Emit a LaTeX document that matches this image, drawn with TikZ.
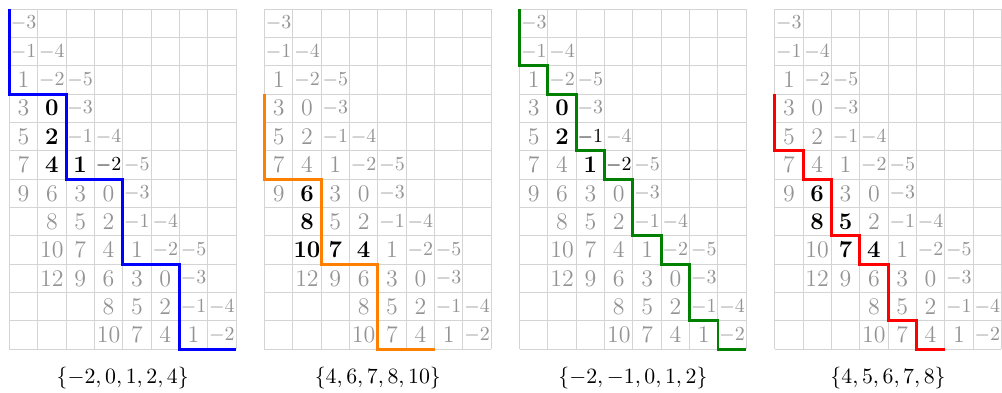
\documentclass[tikz,border=0pt]{standalone}
\usepackage{amsmath}
\usepackage{tikz}
\definecolor{verde}{HTML}{008000}
\definecolor{naranja}{HTML}{FF8000}
% una tabla: #1 desplazamiento, #2 prefijo, #3 celdas marcadas, #4 rotulo
\newcommand{\tabla}[4]{%
  \foreach \i in {0,...,8} \draw[rej] (#1+\i,0) -- (#1+\i,12);
  \foreach \j in {0,...,12} \draw[rej] (#1,\j) -- (#1+8,\j);
  \foreach \r/\c in {#3} {\expandafter\gdef\csname marca#2-\r-\c\endcsname{}}
  \foreach \r in {0,...,11} {
    \foreach \c in {0,...,7} {
      \pgfmathtruncatemacro{\v}{2*\r-3*\c-3}
      \ifnum\v<0 \def\tam{\normalsize}\def\txt{$\v$}\else\def\tam{\large}\def\txt{$\mathbf{\v}$}\fi
      \ifnum\v<-5 \else\ifnum\v>12 \else\ifnum\v=11 \else
        \ifcsname marca#2-\r-\c\endcsname
          \node[num, marcada, font=\tam] (#2-\r-\c) at (#1+\c+0.5,\r+0.5) {\txt};
        \else
          \node[num, font=\tam] (#2-\r-\c) at (#1+\c+0.5,\r+0.5) {$\v$};
        \fi
      \fi\fi\fi
    }
  }
  \node[rotulo] (#2-rot) at (#1+4,13) {$#4$};
}

\begin{document}
\begin{tikzpicture}[
    x=5mm, y=-5mm,
    rej/.style={draw=black!17, line width=0.5pt},
    num/.style={inner sep=0pt, text=black!42},
    marcada/.style={text=black},
    rotulo/.style={font=\fontsize{11}{13}\selectfont},
    camino/.style={line width=1.5pt}
  ]
  \useasboundingbox (-0.33,-0.32) rectangle (35.02,13.51);

  \tabla{0}{a}{3/1,4/1,5/1,5/2,5/3}{\{-2,0,1,2,4\}}
  \tabla{9}{b}{6/1,7/1,8/1,8/2,8/3}{\{4,6,7,8,10\}}
  \tabla{18}{c}{3/1,4/1,4/2,5/2,5/3}{\{-2,-1,0,1,2\}}
  \tabla{27}{d}{6/1,7/1,7/2,8/2,8/3}{\{4,5,6,7,8\}}

  % caminos
  \draw[camino, blue] (0,0) -- (0,3) -- (2,3) -- (2,6) -- (4,6) -- (4,9) -- (6,9) -- (6,12) -- (8,12);
  \draw[camino, naranja] (9,3) -- (9,6) -- (11,6) -- (11,9) -- (13,9) -- (13,12) -- (15,12);
  \draw[camino, verde] (18,0) -- (18,2) -- (19,2) -- (19,3) -- (20,3) -- (20,5) -- (21,5) -- (21,6)
    -- (22,6) -- (22,8) -- (23,8) -- (23,9) -- (24,9) -- (24,11) -- (25,11) -- (25,12) -- (26,12);
  \draw[camino, red] (27,3) -- (27,5) -- (28,5) -- (28,6) -- (29,6) -- (29,8) -- (30,8) -- (30,9)
    -- (31,9) -- (31,11) -- (32,11) -- (32,12) -- (33,12);
\end{tikzpicture}
\end{document}
